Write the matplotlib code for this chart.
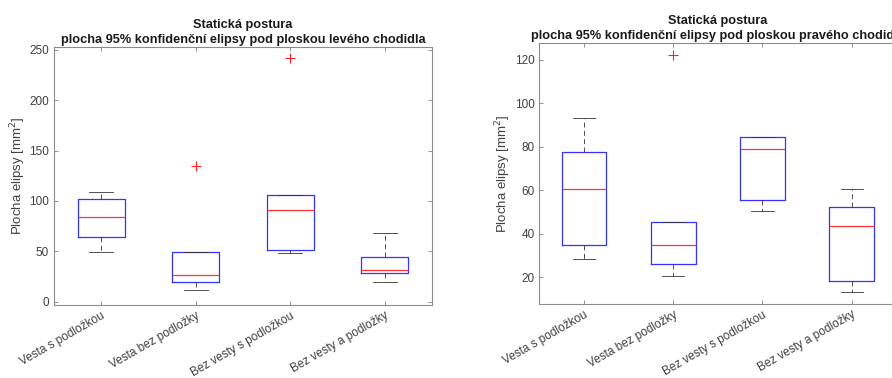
import matplotlib.pyplot as plt

plt.rcParams['font.family'] = ['Liberation Sans', 'DejaVu Sans']

conditions = ["Vesta s podložkou", "Vesta bez podložky", "Bez vesty s podložkou", "Bez vesty a podložky"]

# levé chodidlo: dolní vous, Q1, medián, Q3, horní vous, odlehlé hodnoty
left_wlo = [49.0, 11.9, 48.0, 19.2]
left_q1 = [64.6, 19.5, 51.3, 28.1]
left_med = [84.4, 26.8, 91.0, 31.8]
left_q3 = [101.7, 49.0, 105.6, 44.4]
left_whi = [109.3, 49.0, 105.6, 68.5]
left_fliers = [[], [134.4], [241.7], []]

# pravé chodidlo
right_wlo = [28.1, 20.3, 50.4, 12.9]
right_q1 = [34.6, 25.8, 55.3, 18.2]
right_med = [60.4, 34.6, 78.8, 43.5]
right_q3 = [77.6, 45.3, 84.7, 52.4]
right_whi = [93.1, 45.3, 84.7, 60.4]
right_fliers = [[], [122.3], [], []]

fig = plt.figure(figsize=(8.92, 3.78), dpi=100)
ax1 = fig.add_axes([0.0605, 0.1931, 0.4238, 0.6817])
ax2 = fig.add_axes([0.6046, 0.1958, 0.4003, 0.6897])

txt = '#404040'


def draw(ax, wlo, q1, med, q3, whi, fl, title, ylim, yticks):
    stats = []
    for i in range(len(conditions)):
        stats.append(dict(whislo=wlo[i], q1=q1[i], med=med[i], q3=q3[i],
                          whishi=whi[i], fliers=[], label=conditions[i]))
    ax.bxp(stats, widths=0.5, showfliers=False,
           boxprops=dict(color='#3333ff', linewidth=0.9),
           medianprops=dict(color='#ff3333', linewidth=0.9),
           whiskerprops=dict(color='#333333', linewidth=0.6, linestyle=(0, (6, 4))),
           capprops=dict(color='#333333', linewidth=0.6))
    # odlehlé hodnoty
    for i in range(len(conditions)):
        if fl[i]:
            ax.plot([i + 1] * len(fl[i]), fl[i], linestyle='none', marker='+',
                    color='#ff2020', markersize=7, markeredgewidth=0.8)
    ax.set_xlim(0.5, 4.5)
    ax.set_ylim(*ylim)
    ax.set_yticks(yticks)
    ax.set_xticks([1, 2, 3, 4])
    ax.set_xticklabels(conditions, rotation=30, ha='right', rotation_mode='anchor',
                       fontsize=8, color=txt)
    ax.tick_params(direction='in', top=True, right=True, length=3, width=0.6,
                   labelsize=8.5, colors='#808080', labelcolor=txt)
    for s in ax.spines.values():
        s.set_color('#8c8c8c')
        s.set_linewidth(0.8)
    ax.set_ylabel('Plocha elipsy [mm$^2$]', fontsize=9.5, color=txt, labelpad=1)
    ax.set_title(title, fontsize=9.2, fontweight='bold', color='#1a1a1a', pad=3,
                 linespacing=1.3)


draw(ax1, left_wlo, left_q1, left_med, left_q3, left_whi, left_fliers,
     'Statická postura\nplocha 95% konfidenční elipsy pod ploskou levého chodidla',
     (-3.3, 252.6), [0, 50, 100, 150, 200, 250])
draw(ax2, right_wlo, right_q1, right_med, right_q3, right_whi, right_fliers,
     'Statická postura\nplocha 95% konfidenční elipsy pod ploskou pravého chodidla',
     (7.6, 127.7), [20, 40, 60, 80, 100, 120])

fig.savefig('out.png', dpi=100)
